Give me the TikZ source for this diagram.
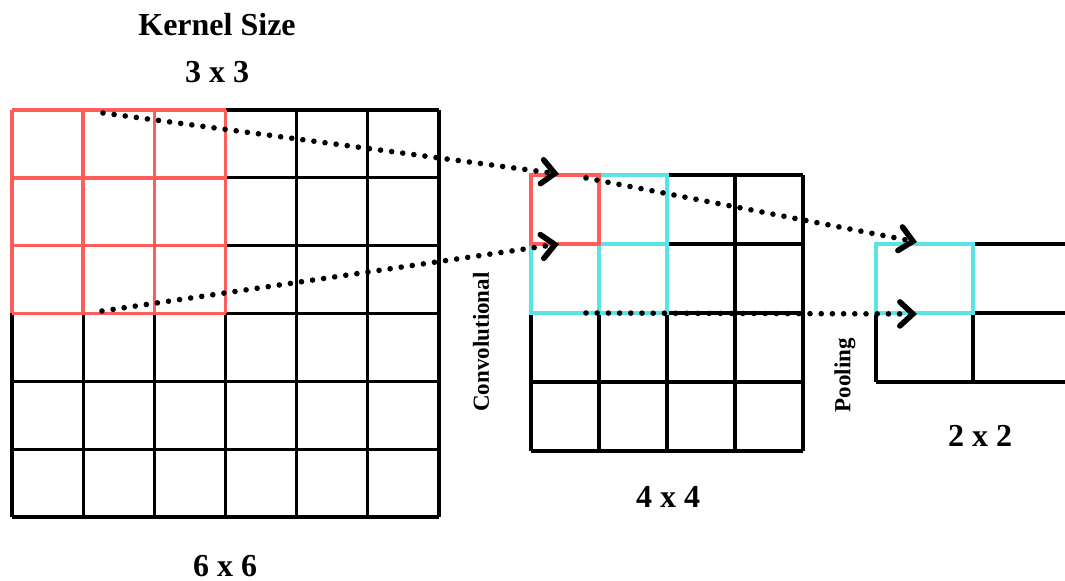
\documentclass[tikz,border=0pt]{standalone}
\usepackage{fontspec}
\setmainfont{Liberation Serif}
\usetikzlibrary{arrows.meta}
\definecolor{KernelRed}{HTML}{FF5C5C}
\definecolor{PoolCyan}{HTML}{5CE3E6}

\begin{document}
\begin{tikzpicture}[x=0.5pt,y=-0.5pt,
  cell/.style={line width=1.6pt,black},
  kernel/.style={line width=1.7pt,KernelRed},
  pooled/.style={line width=1.7pt,PoolCyan},
  flow/.style={line width=2.8pt,line cap=round,dash pattern=on 0pt off 5.6pt,
    -{Straight Barb[length=6.5pt,width=12pt,line cap=round]}},
  size/.style={font=\bfseries\fontsize{16}{18}\selectfont,inner sep=1pt},
  side/.style={font=\bfseries\fontsize{11.5}{13}\selectfont,rotate=90}]
  \useasboundingbox (0,0) rectangle (1065,581);
  \clip (0,0) rectangle (1065,581);
  % input 6 x 6
  \foreach \i in {0,...,6} {
    \draw[cell] ({12+71.17*\i},110) -- ({12+71.17*\i},517);
    \draw[cell] (12,{110+67.83*\i}) -- (439,{110+67.83*\i});
  }
  \foreach \i in {0,...,3} {
    \draw[kernel] ({12+71.17*\i},110) -- ({12+71.17*\i},313.5);
    \draw[kernel] (12,{110+67.83*\i}) -- (225.5,{110+67.83*\i});
  }
  % feature map 4 x 4
  \foreach \i in {0,...,4} {
    \draw[cell] ({531+68*\i},175) -- ({531+68*\i},451);
    \draw[cell] (531,{175+69*\i}) -- (803,{175+69*\i});
  }
  \draw[pooled] (531,175) rectangle (667,313);
  \draw[pooled] (599,175) -- (599,313) (531,244) -- (667,244);
  \draw[kernel] (531,175) rectangle (599,244);
  % pooled 2 x 2
  \draw[cell] (876,244) -- (876,382) (973,244) -- (973,382);
  \foreach \y in {244,313,382}
    \draw[cell] (876,\y) -- (1070,\y);
  \draw[pooled] (876,244) rectangle (973,313);
  % arrows
  \coordinate (kTop) at (103,113);
  \coordinate (kBot) at (102,311);
  \coordinate (cTop) at (559,174);
  \coordinate (cBot) at (559,244);
  \coordinate (fTop) at (586,178);
  \coordinate (fBot) at (586,313);
  \coordinate (pTop) at (917,242);
  \coordinate (pBot) at (917,314);
  \draw[flow] (kTop) -- (cTop);
  \draw[flow] (kBot) -- (cBot);
  \draw[flow] (fTop) -- (pTop);
  \draw[flow] (fBot) -- (pBot);
  % labels
  \node[size] (title) at (217,25) {Kernel Size};
  \node[size] (ksize) at (217,72) {3 x 3};
  \node[size] (insize) at (225,566) {6 x 6};
  \node[size] (convsize) at (668,497) {4 x 4};
  \node[size] (poolsize) at (980,436) {2 x 2};
  \node[side] (conv) at (481,342) {Convolutional};
  \node[side] (pool) at (845,375) {Pooling};
\end{tikzpicture}
\end{document}
